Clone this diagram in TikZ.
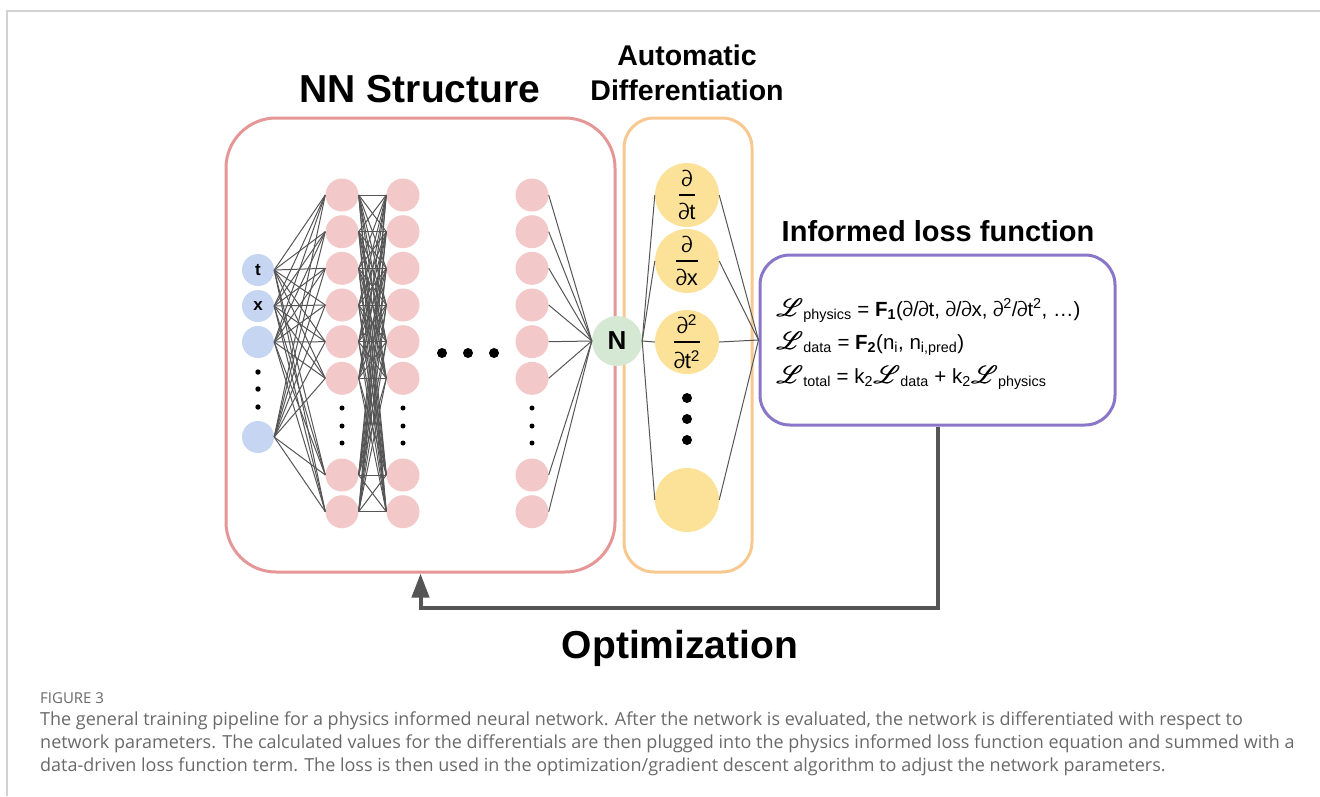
\documentclass[tikz,border=0pt]{standalone}
\usepackage{fontspec}
\usepackage{amsmath}
\usepackage{mathrsfs}
\setmainfont{Liberation Sans}
\newfontfamily\capfont{Open Sans}
\newfontfamily\pdfont{TeX Gyre Heros}
\usetikzlibrary{arrows.meta, positioning}
\definecolor{nnred}{RGB}{229,150,150}
\definecolor{adorange}{RGB}{249,200,145}
\definecolor{losspurple}{RGB}{138,118,200}
\definecolor{inblue}{RGB}{198,214,242}
\definecolor{hidpink}{RGB}{242,200,200}
\definecolor{outgreen}{RGB}{213,232,212}
\definecolor{adyellow}{RGB}{252,226,152}
\definecolor{wiregray}{RGB}{85,85,85}
\definecolor{capgray}{RGB}{105,105,105}
\definecolor{framegray}{RGB}{210,210,210}

\newcommand{\pd}{{\pdfont ∂}}
\newcommand{\Lb}{{\fontsize{24}{24}\selectfont\rlap{$\mathscr{L}$}\hbox{\kern0.7pt$\mathscr{L}$}}}
\newcommand{\dd}[2]{$\genfrac{}{}{2.4pt}{0}{\text{#1}}{\text{#2}}$}

\begin{document}
\begin{tikzpicture}[x=1pt, y=-1pt,
    wire/.style={wiregray, line width=1},
    inp/.style={circle, fill=inblue, minimum size=32, inner sep=0, font=\fontsize{17}{17}\selectfont\bfseries},
    hid/.style={circle, fill=hidpink, minimum size=33, inner sep=0},
    adnode/.style={circle, fill=adyellow, minimum size=64, inner sep=0, font=\fontsize{22}{22}\selectfont},
    panel/.style={line width=3, inner sep=0}]
    \useasboundingbox (0,0) rectangle (1320,796);
    \draw[framegray, line width=1.3] (7,796) -- (7,11) -- (1320,11);

    % the three panels
    \node[panel, draw=nnred, rounded corners=50, minimum width=389, minimum height=454] (nnbox) at (420.5,345) {};
    \node[panel, draw=adorange, rounded corners=30, minimum width=128, minimum height=454] (adbox) at (688,345) {};
    \node[panel, draw=losspurple, rounded corners=30, minimum width=355, minimum height=170] (lossbox) at (937.5,340) {};

    \node[font=\fontsize{39}{44}\selectfont\bfseries] (nntitle) at (420,89) {NN Structure};
    \node[font=\fontsize{28.5}{35}\selectfont\bfseries, align=center] (adtitle) at (687,73) {Automatic\\Differentiation};
    \node[font=\fontsize{29}{34}\selectfont\bfseries] (losstitle) at (938,231) {Informed loss function};

    % network
    \foreach \y/\lab [count=\i] in {270/t, 306/x, 342/{}, 437/{}}
        \node[inp] (in\i) at (258,\y) {\lab};
    \foreach \y [count=\i] in {195,231.7,268.3,305,341.7,378.3,475,511.7} {
        \node[hid] (ha\i) at (342,\y) {};
        \node[hid] (hb\i) at (403,\y) {};
        \node[hid] (hc\i) at (532,\y) {};
    }
    \node[circle, fill=outgreen, minimum size=50, inner sep=0, font=\fontsize{26}{26}\selectfont\bfseries] (outN) at (617,341) {N};

    \foreach \i in {1,...,4}
        \foreach \j in {1,...,8}
            \draw[wire] (in\i.east) -- (ha\j.west);
    \foreach \i in {1,...,8} {
        \foreach \j in {1,...,8}
            \draw[wire] (ha\i.east) -- (hb\j.west);
        \draw[wire] (hc\i.east) -- (outN.west);
    }

    \foreach \y in {372,389,407} \fill (258,\y) circle (2.7);
    \foreach \x in {342,403,532}
        \foreach \y in {408,426,443} \fill (\x,\y) circle (2.5);
    \foreach \x in {442,468,494} \fill (\x,353) circle (5);

    % differentiation column
    \node[adnode] (ad1) at (687,195) {\dd{\pd}{\pd t}};
    \node[adnode] (ad2) at (687,261) {\dd{\pd}{\pd x}};
    \node[adnode] (ad3) at (687,342) {\dd{\pd\textsuperscript{2}}{\pd t\textsuperscript{2}}};
    \node[adnode] (ad4) at (687,500) {};
    \foreach \y in {398,419,440} \fill (687,\y) circle (5);
    \foreach \i in {1,...,4} {
        \draw[wire] (outN.east) -- (ad\i.west);
        \draw[wire] (ad\i.east) -- (lossbox.west);
    }

    \node[anchor=west, align=left, font=\fontsize{20.5}{33.5}\selectfont, inner sep=0] (eqs) at (776,344)
        {\Lb\textsubscript{physics} = \textbf{F\textsubscript{1}}(\pd/\pd t, \pd/\pd x, \pd\textsuperscript{2}/\pd t\textsuperscript{2}, …)\\
         \Lb\textsubscript{data} = \textbf{F\textsubscript{2}}(n\textsubscript{i}, n\textsubscript{i,pred})\\
         \Lb\textsubscript{total} = k\textsubscript{2}\Lb\textsubscript{data} + k\textsubscript{2}\Lb\textsubscript{physics}};

    % feedback loop
    \draw[wiregray, line width=4, -{Triangle[length=24pt, width=17pt]}] (lossbox.south) -- ++(0,181) -| (nnbox.south);
    \node[font=\fontsize{39}{44}\selectfont\bfseries, anchor=base] (opt) at (680,658) {Optimization};

    % caption
    \node[anchor=base west, inner sep=0, text=capgray, font=\capfont\fontsize{15}{17}\selectfont] (figlabel) at (40,703) {FIGURE 3};
    \node[anchor=north west, align=left, inner sep=0, text=capgray, font=\capfont\fontsize{18}{23}\selectfont] (caption) at (40,712)
        {The general training pipeline for a physics informed neural network. After the network is evaluated, the network is differentiated with respect to\\
         network parameters. The calculated values for the differentials are then plugged into the physics informed loss function equation and summed with a\\
         data-driven loss function term. The loss is then used in the optimization/gradient descent algorithm to adjust the network parameters.};
\end{tikzpicture}
\end{document}
